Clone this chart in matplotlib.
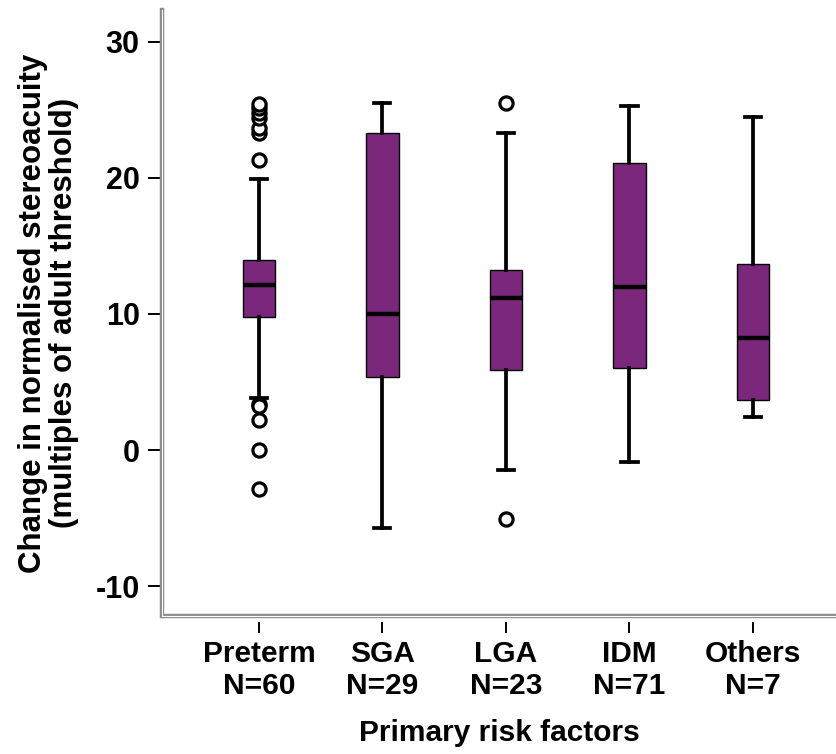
import matplotlib.pyplot as plt

plt.rcParams['font.family'] = ['Liberation Sans', 'DejaVu Sans']
plt.rcParams['font.weight'] = 'bold'
plt.rcParams['axes.labelweight'] = 'bold'
plt.rcParams['axes.unicode_minus'] = False

# Risk-factor groups and the box-plot summaries for each
groups = ['Preterm', 'SGA', 'LGA', 'IDM', 'Others']
counts = [60, 29, 23, 71, 7]
q1 = [9.8, 5.4, 5.9, 6.0, 3.7]
medians = [12.1, 10.0, 11.2, 12.0, 8.2]
q3 = [14.0, 23.3, 13.2, 21.1, 13.7]
whisker_low = [3.8, -5.7, -1.5, -0.9, 2.4]
whisker_high = [19.9, 25.5, 23.3, 25.3, 24.5]
outliers = [
    [21.3, 23.3, 23.7, 24.4, 24.8, 25.1, 25.4, 3.4, 3.2, 2.2, 0.0, -2.9],
    [],
    [25.5, -5.1],
    [],
    [],
]

stats = []
for i, name in enumerate(groups):
    stats.append({
        'label': f'{name}\nN={counts[i]}',
        'q1': q1[i], 'med': medians[i], 'q3': q3[i],
        'whislo': whisker_low[i], 'whishi': whisker_high[i],
        'fliers': outliers[i],
    })

fig = plt.figure(figsize=(8.37, 7.54), dpi=100)
ax = fig.add_axes([0.1935, 0.183, 0.8065, 0.804])

ax.bxp(stats, positions=range(1, 6), widths=0.26, patch_artist=True,
       boxprops=dict(facecolor='#7b287c', edgecolor='black', linewidth=1.0),
       medianprops=dict(color='black', linewidth=3.2),
       whiskerprops=dict(color='black', linewidth=2.7),
       capprops=dict(color='black', linewidth=2.7),
       capwidths=0.13,
       flierprops=dict(marker='o', markerfacecolor='white',
                       markeredgecolor='black', markersize=9.5,
                       markeredgewidth=2.3))

ax.set_xlim(0.215, 5.68)
ax.set_ylim(-12.2, 32.35)
ax.set_yticks([-10, 0, 10, 20, 30])

# grey double-line frame on the left and bottom
for side in ['top', 'right', 'bottom']:
    ax.spines[side].set_visible(False)
ax.spines['left'].set_color('#8c8c8c')
ax.spines['left'].set_linewidth(3.2)
ax.plot([0, 1], [0, 0], transform=ax.transAxes, color='#8c8c8c',
        lw=3.2, clip_on=False, solid_capstyle='butt')
ax.plot([0, 0], [0, 1], transform=ax.transAxes, color='white',
        lw=0.8, clip_on=False, zorder=5)
ax.plot([0.0015, 1], [0, 0], transform=ax.transAxes, color='white',
        lw=0.8, clip_on=False, zorder=5)
ax.spines['bottom'].set_position(('outward', 4))

ax.tick_params(axis='y', length=10, width=1.4, color='black',
               labelsize=22, pad=6)
ax.tick_params(axis='x', length=8, width=1.4, color='black',
               labelsize=21.5, pad=5)
ax.set_xticks(range(1, 6))
ax.set_xticklabels([s['label'] for s in stats], linespacing=1.2)

ax.set_ylabel('Change in normalised stereoacuity\n(multiples of adult threshold)',
              fontsize=22.5, linespacing=1.05, labelpad=12)
ax.set_xlabel('Primary risk factors', fontsize=21.5, labelpad=14)

fig.savefig('out.png', dpi=100)
